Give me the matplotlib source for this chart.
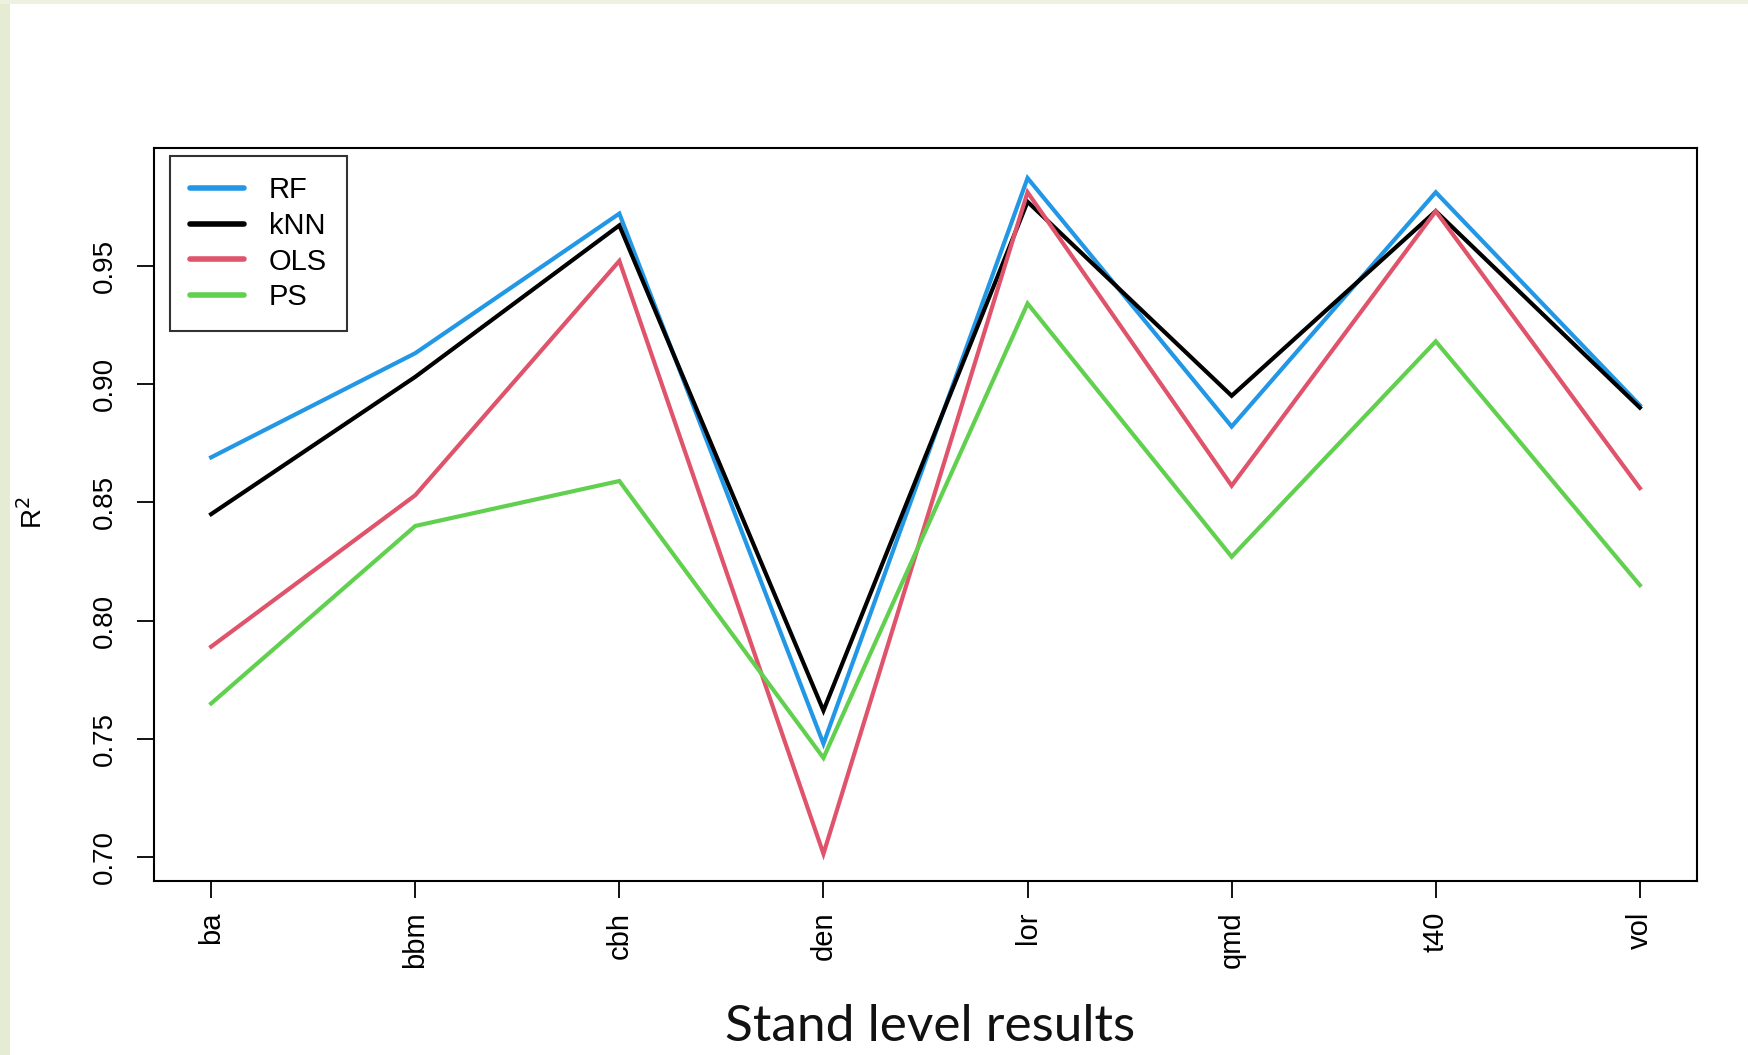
import matplotlib
matplotlib.use("Agg")
import matplotlib.pyplot as plt
from matplotlib.patches import Rectangle

# Data

variables = ["ba", "bbm", "cbh", "den", "lor", "qmd", "t40", "vol"]
rf = [0.869, 0.913, 0.972, 0.748, 0.987, 0.882, 0.981, 0.891]
knn = [0.845, 0.903, 0.967, 0.762, 0.977, 0.895, 0.973, 0.890]
ols = [0.789, 0.853, 0.952, 0.7015, 0.981, 0.857, 0.973, 0.856]
ps = [0.765, 0.840, 0.859, 0.742, 0.934, 0.827, 0.918, 0.815]

series_names = ["RF", "kNN", "OLS", "PS"]
series_colors = ["#2297E6", "#000000", "#DF536B", "#61D04F"]

W, H = 1749, 1055
fig = plt.figure(figsize=(W / 100, H / 100), dpi=100)
fig.patch.set_facecolor("white")

# slide-style border strips
fig.patches.append(Rectangle((0, 0), 10 / W, 1, transform=fig.transFigure,
                             facecolor="#e6ecd4", edgecolor="none", zorder=0))
fig.patches.append(Rectangle((0, 1 - 4 / H), 1, 4 / H, transform=fig.transFigure,
                             facecolor="#edf1e0", edgecolor="none", zorder=0))

ax = fig.add_axes([154 / W, (H - 881) / H, (1697 - 154) / W, (881 - 148) / H])

x = list(range(len(variables)))
for vals, name, col in zip([rf, knn, ols, ps], series_names, series_colors):
    ax.plot(x, vals, color=col, lw=3.0, label=name, solid_joinstyle="miter")

ax.set_xlim(-0.28, len(variables) - 1 + 0.28)
ax.set_ylim(0.69, 0.9997)

ax.set_xticks(x)
ax.set_xticklabels(variables, rotation=90, fontsize=21, family="Liberation Sans")
ax.set_yticks([0.70, 0.75, 0.80, 0.85, 0.90, 0.95])
ax.set_yticklabels(["0.70", "0.75", "0.80", "0.85", "0.90", "0.95"],
                   rotation=90, va="center", fontsize=20, family="Liberation Sans")
ax.tick_params(axis="both", length=12, width=1.3)
ax.tick_params(axis="y", pad=14)
ax.tick_params(axis="x", pad=10)

for sp in ax.spines.values():
    sp.set_linewidth(1.5)

fig.text(33 / W, 1 - 513 / H, "R$^2$", rotation=90, ha="center", va="center",
         fontsize=20, family="Liberation Sans")

fig.text(930 / W, 1 - 1041 / H, "Stand level results", ha="center", va="baseline",
         fontsize=37, family="Lato", color="#111111")

leg = ax.legend(loc="upper left", bbox_to_anchor=(16 / 1543, 1 - 8 / 733),
                prop={"family": "Liberation Sans", "size": 21},
                frameon=True, fancybox=False, handlelength=1.85, handletextpad=0.85,
                labelspacing=0.27, borderpad=0.68, borderaxespad=0)
leg.get_frame().set_edgecolor("black")
leg.get_frame().set_linewidth(1.5)
for line in leg.get_lines():
    line.set_linewidth(4)
    line.set_solid_capstyle("round")

plt.savefig("out.png", dpi=100)
